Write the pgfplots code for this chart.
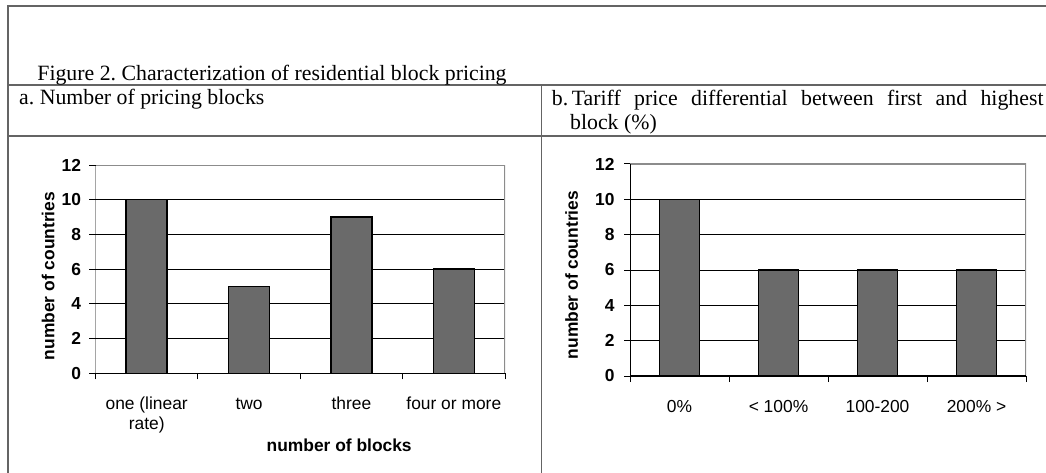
\documentclass[border=0pt]{standalone}
\usepackage{fontspec}
\setmainfont{Liberation Serif}
\setsansfont{Liberation Sans}
\usepackage{pgfplots}
\pgfplotsset{compat=1.18}
\frenchspacing
\definecolor{barfill}{RGB}{106,106,106}
\definecolor{rule}{RGB}{100,100,100}
\newcommand{\chartfont}{\fontsize{17.4}{20}\selectfont\sffamily}
\newcommand{\capfont}{\fontsize{21.8}{25}\selectfont\rmfamily\frenchspacing}
\pgfplotsset{
  blockchart/.style={
    scale only axis,
    xmin=-0.5, xmax=3.5, ymin=0, ymax=12,
    ytick={0,2,...,12},
    xtick={-0.5,0.5,1.5,2.5,3.5}, xticklabels={},
    tick align=outside, tick pos=left,
    major tick length=6pt,
    tick style={black, line width=1pt},
    extra x tick style={major tick length=0pt, tick style={draw=none}},
    /pgf/number format/assume math mode=true,
    yticklabel style={font=\chartfont\bfseries, xshift=-5pt},
    xticklabel style={font=\chartfont, anchor=base, yshift=-36.5pt},
    label style={font=\chartfont\bfseries},
    ymajorgrids, grid style={black, line width=0.9pt},
    axis line style={draw=none},
    ybar, bar width=41pt,
  },
  blockbar/.style={fill=barfill, draw=black, line width=1.4pt},
}
\begin{document}
\begin{tikzpicture}
\useasboundingbox (0pt,0pt) rectangle (1046pt,-473pt);
% frame
\draw[rule, line width=1.8pt] (7.6pt,-473pt) -- (7.6pt,-6pt) -- (1046pt,-6pt);
\draw[rule, line width=1.8pt] (7.6pt,-85pt) -- (1046pt,-85pt);
\draw[rule, line width=1.8pt] (7.6pt,-136pt) -- (1046pt,-136pt);
\draw[rule, line width=1.8pt] (541.5pt,-85pt) -- (541.5pt,-473pt);
% captions
\node[anchor=base west, inner sep=0pt, font=\capfont] at (37.2pt,-81pt) {Figure 2. Characterization of residential block pricing};
\node[anchor=base west, inner sep=0pt, font=\capfont] at (19pt,-105pt) {a. Number of pricing blocks};
\node[anchor=base west, inner sep=0pt, font=\capfont] at (551.7pt,-105.5pt) {b.};
\node[anchor=base west, inner sep=0pt, font=\capfont] at (571.7pt,-105.5pt) {\makebox[471.6pt][s]{Tariff price differential between first and highest}};
\node[anchor=base west, inner sep=0pt, font=\capfont] at (570pt,-130pt) {block (\%)};
% left chart
\begin{axis}[blockchart,
  at={(95.5pt,-373.3pt)}, anchor=south west,
  width=409.5pt, height=208.3pt,
  extra x ticks={0,1,2,3},
  extra x tick labels={{\begin{tabular}[t]{@{}c@{}}one (linear\\rate)\end{tabular}},two,three,{four or more}},
  xlabel={number of blocks},
  xlabel style={at={(rel axis cs:0.595,0)}, anchor=center, yshift=-71.7pt},
  ylabel={number of countries},
  ylabel style={at={(rel axis cs:0,0.467)}, anchor=center, yshift=47.3pt},
]
\addplot[blockbar] coordinates {(0,10) (1,5) (2,9) (3,6)};
\draw[black!45, line width=1.4pt] (rel axis cs:0,1) -- (rel axis cs:1,1) -- (rel axis cs:1,0);
\draw[black, line width=1.2pt] (rel axis cs:0,1) -- (rel axis cs:0,0) -- (rel axis cs:1,0);
\end{axis}
% right chart
\begin{axis}[blockchart,
  at={(630pt,-376pt)}, anchor=south west,
  width=396pt, height=212pt,
  bar width=40pt,
  yticklabel style={xshift=-1pt},
  extra x ticks={0,1,2,3},
  extra x tick labels={0\%,{< 100\%},100-200,{200\% >}},
  ylabel={number of countries},
  ylabel style={at={(rel axis cs:0,0.476)}, anchor=center, yshift=58.3pt},
]
\addplot[blockbar] coordinates {(0,10) (1,6) (2,6) (3,6)};
\draw[black!45, line width=1.4pt] (rel axis cs:0,1) -- (rel axis cs:1,1) -- (rel axis cs:1,0);
\draw[black, line width=1.2pt] (rel axis cs:0,1) -- (rel axis cs:0,0) -- (rel axis cs:1,0);
\end{axis}
\end{tikzpicture}
\end{document}
